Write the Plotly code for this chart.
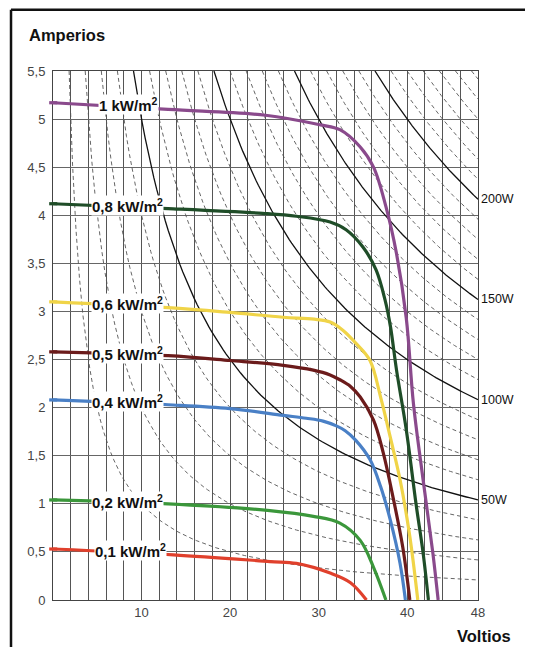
import plotly.graph_objects as go

# ---------------- data ----------------
# I-V curves per irradiance (Voltios, Amperios)
labels = ["1 kW/m<sup>2</sup>", "0,8 kW/m<sup>2</sup>", "0,6 kW/m<sup>2</sup>", "0,5 kW/m<sup>2</sup>",
          "0,4 kW/m<sup>2</sup>", "0,2 kW/m<sup>2</sup>", "0,1 kW/m<sup>2</sup>"]

v_1000 = [0, 13, 24, 30.2, 32.4, 34.7, 36.2, 37.6, 38.8, 39.9, 40.7, 41.8, 42.9, 43.5]
i_1000 = [5.17, 5.10, 5.04, 4.94, 4.89, 4.71, 4.50, 4.09, 3.60, 2.93, 2.05, 1.25, 0.49, 0]

v_800 = [0, 13, 23.7, 27.5, 31.3, 33.1, 35.0, 36.5, 37.5, 38.1, 38.8, 39.9, 41.0, 41.8, 42.4]
i_800 = [4.12, 4.07, 4.02, 3.99, 3.93, 3.85, 3.67, 3.43, 3.12, 2.85, 2.39, 1.77, 1.0, 0.49, 0]

v_600 = [0, 13, 20, 26, 29.5, 31.3, 32.8, 34.2, 35.8, 37.0, 38.1, 39.2, 40.3, 41.2]
i_600 = [3.10, 3.04, 2.99, 2.94, 2.92, 2.89, 2.80, 2.67, 2.49, 2.11, 1.69, 1.25, 0.66, 0]

v_500 = [0, 13, 20, 26, 29.4, 31.3, 32.4, 33.6, 34.7, 36.2, 37.3, 38.4, 39.5, 40.3]
i_500 = [2.58, 2.54, 2.49, 2.44, 2.39, 2.34, 2.29, 2.22, 2.11, 1.87, 1.53, 1.07, 0.55, 0]

v_400 = [0, 13, 20, 26, 28.6, 30.5, 32.0, 33.0, 34.2, 35.8, 37.0, 38.1, 39.2, 39.8]
i_400 = [2.08, 2.03, 1.99, 1.92, 1.89, 1.86, 1.81, 1.76, 1.66, 1.46, 1.18, 0.83, 0.38, 0]

v_200 = [0, 13, 24.5, 29.4, 32.4, 34.7, 36.2, 37.6]
i_200 = [1.04, 1.0, 0.93, 0.87, 0.80, 0.62, 0.34, 0]

v_100 = [0, 13.6, 24.5, 27.5, 31.3, 33.6, 35.4]
i_100 = [0.53, 0.47, 0.40, 0.38, 0.28, 0.18, 0]

# iso-power reference levels (W)
power_solid = [50, 100, 150, 200]
power_dashed = [10, 20, 30, 40, 60, 70, 80, 90, 110, 120, 130, 140,
                160, 170, 180, 190, 210, 220, 230, 240, 250, 260]

# tick labels
x_ticks = [10, 20, 30, 40, 48]
y_ticks = [0, 0.5, 1, 1.5, 2, 2.5, 3, 3.5, 4, 4.5, 5, 5.5]
y_ticktext = ["0", "0,5", "1", "1,5", "2", "2,5", "3", "3,5", "4", "4,5", "5", "5,5"]

# ---------------- styling ----------------
curves = [
    (v_1000, i_1000, "#8a4a8c", 8.5),
    (v_800, i_800, "#1f4d28", 8.4),
    (v_600, i_600, "#f0d448", 8.4),
    (v_500, i_500, "#6b1b1b", 8.4),
    (v_400, i_400, "#4a80c6", 8.4),
    (v_200, i_200, "#3b973b", 8.4),
    (v_100, i_100, "#e0402c", 8.8),
]

XMAX, YMAX = 48, 5.5
FONT = "Liberation Sans, Arial, sans-serif"

fig = go.Figure()


def hyper(p, n=120):
    v0 = p / YMAX
    vs = [v0 + (XMAX - v0) * k / (n - 1) for k in range(n)]
    return vs, [p / v for v in vs]


for p in power_dashed:
    vs, is_ = hyper(p)
    fig.add_trace(go.Scatter(x=vs, y=is_, mode="lines",
                             line=dict(color="#555555", width=0.9, dash="4px,3px"),
                             hoverinfo="skip", showlegend=False))
for p in power_solid:
    vs, is_ = hyper(p)
    fig.add_trace(go.Scatter(x=vs, y=is_, mode="lines",
                             line=dict(color="#111111", width=1.3),
                             hoverinfo="skip", showlegend=False))

for (vs, is_, col, lx), lab in zip(curves, labels):
    fig.add_trace(go.Scatter(x=vs, y=is_, mode="lines",
                             line=dict(color=col, width=3.2, shape="spline", smoothing=1.0),
                             name=lab, showlegend=False))
    # short stub of the curve reaching just left of the axis
    fig.add_shape(type="line", xref="paper", yref="y", x0=-0.009, x1=0.01, y0=is_[0], y1=is_[0],
                  line=dict(color=col, width=3.2))
    fig.add_annotation(x=lx, y=is_[0] - 0.02, text="<b>" + lab + "</b>", showarrow=False,
                       xanchor="center", yanchor="middle", bgcolor="white", borderpad=0,
                       font=dict(family=FONT, size=15, color="#111"))

for p in power_solid:
    fig.add_annotation(x=XMAX, y=p / XMAX, text=f"{p}W", showarrow=False,
                       xanchor="left", yanchor="middle", xshift=1,
                       font=dict(family=FONT, size=12.5, color="#111"))

fig.add_annotation(xref="paper", yref="paper", x=-0.062, y=1.068, text="<b>Amperios</b>",
                   showarrow=False, xanchor="left", yanchor="middle",
                   font=dict(family=FONT, size=16.5, color="#111"))
fig.add_annotation(xref="paper", yref="paper", x=0.946, y=-0.068, text="<b>Voltios</b>",
                   showarrow=False, xanchor="left", yanchor="middle",
                   font=dict(family=FONT, size=16.5, color="#111"))

# outer frame (top and left edges of the scanned page)
fig.add_shape(type="line", xref="paper", yref="paper", x0=-0.0988, x1=1.13, y0=1.116, y1=1.116,
              line=dict(color="#111", width=2.5))
fig.add_shape(type="line", xref="paper", yref="paper", x0=-0.0988, x1=-0.0988, y0=1.116, y1=-0.09,
              line=dict(color="#111", width=2.5))

fig.update_xaxes(range=[0, XMAX], tickmode="array", tickvals=x_ticks,
                 showgrid=True, gridcolor="#555", gridwidth=1,
                 minor=dict(dtick=2, showgrid=True, gridcolor="#555", gridwidth=1),
                 showline=True, linecolor="#444", linewidth=1, mirror=True,
                 zeroline=False, ticks="",
                 tickfont=dict(family=FONT, size=13, color="#444"))
fig.update_yaxes(range=[0, YMAX], tickmode="array", tickvals=y_ticks, ticktext=y_ticktext,
                 showgrid=True, gridcolor="#666", gridwidth=1,
                 showline=True, linecolor="#444", linewidth=1, mirror=True,
                 zeroline=False, ticks="", ticklabelstandoff=4,
                 tickfont=dict(family=FONT, size=13, color="#444"))

# the page adds an 8px body margin, so the figure is sized to fit inside the window
fig.update_layout(width=525, height=639, margin=dict(l=45, r=55, t=63, b=47),
                  paper_bgcolor="white", plot_bgcolor="white", showlegend=False)

fig.write_html("out.html")
